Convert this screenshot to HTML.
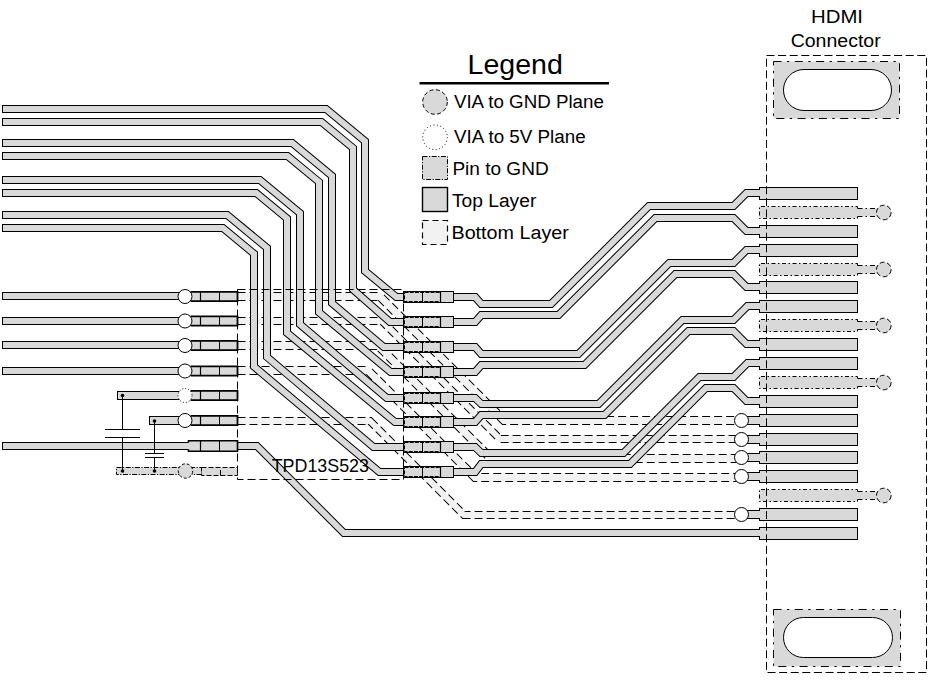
<!DOCTYPE html>
<html><head><meta charset="utf-8"><style>
html,body{margin:0;padding:0;background:#fff;width:932px;height:686px;overflow:hidden}
svg{display:block}
text{font-family:"Liberation Sans",sans-serif;fill:#000}
</style></head><body>
<svg width="932" height="686" viewBox="0 0 932 686">
<path d="M237.50,296.50 L380.00,296.50 L504.00,420.50 L741.50,420.50" stroke="#000" stroke-width="9.00" fill="none" stroke-dasharray="8 4" stroke-linejoin="miter"/>
<path d="M237.50,296.50 L380.00,296.50 L504.00,420.50 L741.50,420.50" stroke="#f2f2f2" stroke-width="7.00" fill="none" stroke-linejoin="miter"/>
<path d="M237.50,321.00 L382.00,321.00 L500.00,439.00 L741.50,439.00" stroke="#000" stroke-width="8.00" fill="none" stroke-dasharray="8 4" stroke-linejoin="miter"/>
<path d="M237.50,321.00 L382.00,321.00 L500.00,439.00 L741.50,439.00" stroke="#f2f2f2" stroke-width="6.00" fill="none" stroke-linejoin="miter"/>
<path d="M237.50,345.50 L378.00,345.50 L491.00,458.50 L741.50,458.50" stroke="#000" stroke-width="9.00" fill="none" stroke-dasharray="8 4" stroke-linejoin="miter"/>
<path d="M237.50,345.50 L378.00,345.50 L491.00,458.50 L741.50,458.50" stroke="#f2f2f2" stroke-width="7.00" fill="none" stroke-linejoin="miter"/>
<path d="M237.50,370.50 L368.00,370.50 L475.00,477.50 L741.50,477.50" stroke="#000" stroke-width="9.00" fill="none" stroke-dasharray="8 4" stroke-linejoin="miter"/>
<path d="M237.50,370.50 L368.00,370.50 L475.00,477.50 L741.50,477.50" stroke="#f2f2f2" stroke-width="7.00" fill="none" stroke-linejoin="miter"/>
<path d="M237.50,421.00 L370.00,421.00 L464.00,515.00 L741.50,515.00" stroke="#000" stroke-width="8.00" fill="none" stroke-dasharray="8 4" stroke-linejoin="miter"/>
<path d="M237.50,421.00 L370.00,421.00 L464.00,515.00 L741.50,515.00" stroke="#f2f2f2" stroke-width="6.00" fill="none" stroke-linejoin="miter"/>
<path d="M2.00,109.00 L326.10,109.00 L365.00,141.13 L365.00,271.00 L396.40,297.00 L404.00,297.00" stroke="#000" stroke-width="8.00" fill="none" stroke-linejoin="miter" stroke-miterlimit="10"/>
<path d="M3.00,109.00 L326.10,109.00 L365.00,141.13 L365.00,271.00 L396.40,297.00 L404.00,297.00" stroke="#d9d9d9" stroke-width="6.00" fill="none" stroke-linejoin="miter" stroke-miterlimit="10"/>
<path d="M2.00,122.00 L321.50,122.00 L353.00,148.02 L353.00,289.50 L390.00,322.00 L404.00,322.00" stroke="#000" stroke-width="8.00" fill="none" stroke-linejoin="miter" stroke-miterlimit="10"/>
<path d="M3.00,122.00 L321.50,122.00 L353.00,148.02 L353.00,289.50 L390.00,322.00 L404.00,322.00" stroke="#d9d9d9" stroke-width="6.00" fill="none" stroke-linejoin="miter" stroke-miterlimit="10"/>
<path d="M2.00,143.00 L292.20,143.00 L332.00,175.87 L332.00,303.20 L383.80,347.00 L404.00,347.00" stroke="#000" stroke-width="8.00" fill="none" stroke-linejoin="miter" stroke-miterlimit="10"/>
<path d="M3.00,143.00 L292.20,143.00 L332.00,175.87 L332.00,303.20 L383.80,347.00 L404.00,347.00" stroke="#d9d9d9" stroke-width="6.00" fill="none" stroke-linejoin="miter" stroke-miterlimit="10"/>
<path d="M2.00,156.00 L287.50,156.00 L319.00,182.02 L319.00,312.30 L390.60,372.00 L404.00,372.00" stroke="#000" stroke-width="8.00" fill="none" stroke-linejoin="miter" stroke-miterlimit="10"/>
<path d="M3.00,156.00 L287.50,156.00 L319.00,182.02 L319.00,312.30 L390.60,372.00 L404.00,372.00" stroke="#d9d9d9" stroke-width="6.00" fill="none" stroke-linejoin="miter" stroke-miterlimit="10"/>
<path d="M2.00,180.00 L259.90,180.00 L300.00,213.12 L300.00,324.30 L386.80,398.00 L404.00,398.00" stroke="#000" stroke-width="8.00" fill="none" stroke-linejoin="miter" stroke-miterlimit="10"/>
<path d="M3.00,180.00 L259.90,180.00 L300.00,213.12 L300.00,324.30 L386.80,398.00 L404.00,398.00" stroke="#d9d9d9" stroke-width="6.00" fill="none" stroke-linejoin="miter" stroke-miterlimit="10"/>
<path d="M2.00,193.00 L256.20,193.00 L287.00,218.44 L287.00,332.80 L395.00,422.00 L404.00,422.00" stroke="#000" stroke-width="8.00" fill="none" stroke-linejoin="miter" stroke-miterlimit="10"/>
<path d="M3.00,193.00 L256.20,193.00 L287.00,218.44 L287.00,332.80 L395.00,422.00 L404.00,422.00" stroke="#d9d9d9" stroke-width="6.00" fill="none" stroke-linejoin="miter" stroke-miterlimit="10"/>
<path d="M2.00,215.00 L227.20,215.00 L267.00,247.87 L267.00,357.00 L373.50,447.00 L404.00,447.00" stroke="#000" stroke-width="8.00" fill="none" stroke-linejoin="miter" stroke-miterlimit="10"/>
<path d="M3.00,215.00 L227.20,215.00 L267.00,247.87 L267.00,357.00 L373.50,447.00 L404.00,447.00" stroke="#d9d9d9" stroke-width="6.00" fill="none" stroke-linejoin="miter" stroke-miterlimit="10"/>
<path d="M2.00,228.00 L222.90,228.00 L254.00,253.69 L254.00,366.50 L379.40,472.00 L404.00,472.00" stroke="#000" stroke-width="8.00" fill="none" stroke-linejoin="miter" stroke-miterlimit="10"/>
<path d="M3.00,228.00 L222.90,228.00 L254.00,253.69 L254.00,366.50 L379.40,472.00 L404.00,472.00" stroke="#d9d9d9" stroke-width="6.00" fill="none" stroke-linejoin="miter" stroke-miterlimit="10"/>
<path d="M453.50,297.00 L475.20,297.00 L481.30,304.00 L551.00,304.00 L649.00,206.00 L733.50,206.00 L746.50,193.00 L760.00,193.00" stroke="#000" stroke-width="8.00" fill="none" stroke-linejoin="miter" stroke-miterlimit="10"/>
<path d="M453.50,297.00 L475.20,297.00 L481.30,304.00 L551.00,304.00 L649.00,206.00 L733.50,206.00 L746.50,193.00 L760.00,193.00" stroke="#d9d9d9" stroke-width="6.00" fill="none" stroke-linejoin="miter" stroke-miterlimit="10"/>
<path d="M453.50,322.00 L475.20,322.00 L481.30,315.00 L558.50,315.00 L655.50,218.00 L733.50,218.00 L746.50,231.00 L760.00,231.00" stroke="#000" stroke-width="8.00" fill="none" stroke-linejoin="miter" stroke-miterlimit="10"/>
<path d="M453.50,322.00 L475.20,322.00 L481.30,315.00 L558.50,315.00 L655.50,218.00 L733.50,218.00 L746.50,231.00 L760.00,231.00" stroke="#d9d9d9" stroke-width="6.00" fill="none" stroke-linejoin="miter" stroke-miterlimit="10"/>
<path d="M453.50,347.00 L475.20,347.00 L481.30,354.00 L578.30,354.00 L669.30,263.00 L733.50,263.00 L746.50,250.00 L760.00,250.00" stroke="#000" stroke-width="8.00" fill="none" stroke-linejoin="miter" stroke-miterlimit="10"/>
<path d="M453.50,347.00 L475.20,347.00 L481.30,354.00 L578.30,354.00 L669.30,263.00 L733.50,263.00 L746.50,250.00 L760.00,250.00" stroke="#d9d9d9" stroke-width="6.00" fill="none" stroke-linejoin="miter" stroke-miterlimit="10"/>
<path d="M453.50,372.00 L475.20,372.00 L481.30,365.00 L584.50,365.00 L675.50,274.00 L733.50,274.00 L746.50,287.00 L760.00,287.00" stroke="#000" stroke-width="8.00" fill="none" stroke-linejoin="miter" stroke-miterlimit="10"/>
<path d="M453.50,372.00 L475.20,372.00 L481.30,365.00 L584.50,365.00 L675.50,274.00 L733.50,274.00 L746.50,287.00 L760.00,287.00" stroke="#d9d9d9" stroke-width="6.00" fill="none" stroke-linejoin="miter" stroke-miterlimit="10"/>
<path d="M453.50,398.00 L475.20,398.00 L481.30,404.00 L598.50,404.00 L682.50,320.00 L733.50,320.00 L747.50,306.00 L760.00,306.00" stroke="#000" stroke-width="8.00" fill="none" stroke-linejoin="miter" stroke-miterlimit="10"/>
<path d="M453.50,398.00 L475.20,398.00 L481.30,404.00 L598.50,404.00 L682.50,320.00 L733.50,320.00 L747.50,306.00 L760.00,306.00" stroke="#d9d9d9" stroke-width="6.00" fill="none" stroke-linejoin="miter" stroke-miterlimit="10"/>
<path d="M453.50,422.00 L475.20,422.00 L481.30,415.00 L604.50,415.00 L688.50,331.00 L733.50,331.00 L746.50,344.00 L760.00,344.00" stroke="#000" stroke-width="8.00" fill="none" stroke-linejoin="miter" stroke-miterlimit="10"/>
<path d="M453.50,422.00 L475.20,422.00 L481.30,415.00 L604.50,415.00 L688.50,331.00 L733.50,331.00 L746.50,344.00 L760.00,344.00" stroke="#d9d9d9" stroke-width="6.00" fill="none" stroke-linejoin="miter" stroke-miterlimit="10"/>
<path d="M453.50,447.00 L475.20,447.00 L481.30,453.00 L623.50,453.00 L699.50,377.00 L733.50,377.00 L747.50,363.00 L760.00,363.00" stroke="#000" stroke-width="8.00" fill="none" stroke-linejoin="miter" stroke-miterlimit="10"/>
<path d="M453.50,447.00 L475.20,447.00 L481.30,453.00 L623.50,453.00 L699.50,377.00 L733.50,377.00 L747.50,363.00 L760.00,363.00" stroke="#d9d9d9" stroke-width="6.00" fill="none" stroke-linejoin="miter" stroke-miterlimit="10"/>
<path d="M453.50,472.00 L475.20,472.00 L481.30,464.00 L630.00,464.00 L706.00,388.00 L733.50,388.00 L746.50,401.00 L760.00,401.00" stroke="#000" stroke-width="8.00" fill="none" stroke-linejoin="miter" stroke-miterlimit="10"/>
<path d="M453.50,472.00 L475.20,472.00 L481.30,464.00 L630.00,464.00 L706.00,388.00 L733.50,388.00 L746.50,401.00 L760.00,401.00" stroke="#d9d9d9" stroke-width="6.00" fill="none" stroke-linejoin="miter" stroke-miterlimit="10"/>
<path d="M2.00,296.00 L200.00,296.00" stroke="#000" stroke-width="8.00" fill="none" stroke-linejoin="miter" stroke-miterlimit="10"/>
<path d="M3.00,296.00 L200.00,296.00" stroke="#d9d9d9" stroke-width="6.00" fill="none" stroke-linejoin="miter" stroke-miterlimit="10"/>
<path d="M2.00,321.00 L200.00,321.00" stroke="#000" stroke-width="8.00" fill="none" stroke-linejoin="miter" stroke-miterlimit="10"/>
<path d="M3.00,321.00 L200.00,321.00" stroke="#d9d9d9" stroke-width="6.00" fill="none" stroke-linejoin="miter" stroke-miterlimit="10"/>
<path d="M2.00,345.00 L200.00,345.00" stroke="#000" stroke-width="8.00" fill="none" stroke-linejoin="miter" stroke-miterlimit="10"/>
<path d="M3.00,345.00 L200.00,345.00" stroke="#d9d9d9" stroke-width="6.00" fill="none" stroke-linejoin="miter" stroke-miterlimit="10"/>
<path d="M2.00,371.00 L200.00,371.00" stroke="#000" stroke-width="8.00" fill="none" stroke-linejoin="miter" stroke-miterlimit="10"/>
<path d="M3.00,371.00 L200.00,371.00" stroke="#d9d9d9" stroke-width="6.00" fill="none" stroke-linejoin="miter" stroke-miterlimit="10"/>
<path d="M117.00,395.50 L200.00,395.50" stroke="#000" stroke-width="9.00" fill="none" stroke-linejoin="miter" stroke-miterlimit="10"/>
<path d="M118.00,395.50 L200.00,395.50" stroke="#d9d9d9" stroke-width="7.00" fill="none" stroke-linejoin="miter" stroke-miterlimit="10"/>
<path d="M149.00,420.50 L200.00,420.50" stroke="#000" stroke-width="9.00" fill="none" stroke-linejoin="miter" stroke-miterlimit="10"/>
<path d="M150.00,420.50 L200.00,420.50" stroke="#d9d9d9" stroke-width="7.00" fill="none" stroke-linejoin="miter" stroke-miterlimit="10"/>
<path d="M2.00,446.00 L256.90,446.00 L343.90,533.00 L760.00,533.00" stroke="#000" stroke-width="8.00" fill="none" stroke-linejoin="miter" stroke-miterlimit="10"/>
<path d="M3.00,446.00 L256.90,446.00 L343.90,533.00 L760.00,533.00" stroke="#d9d9d9" stroke-width="6.00" fill="none" stroke-linejoin="miter" stroke-miterlimit="10"/>
<rect x="116.50" y="467.50" width="85.00" height="7.00" fill="#d9d9d9" stroke="#000" stroke-width="1.0" stroke-dasharray="5 1.5 1.2 1.5" />
<rect x="190.50" y="291.90" width="47.00" height="9.20" fill="#d9d9d9" stroke="none" stroke-width="0" />
<path d="M190.5,291.9 H237.5 V301.1 H190.5" stroke="#000" stroke-width="1.8" fill="none"/>
<line x1="200.50" y1="291.80" x2="200.50" y2="301.20" stroke="#000" stroke-width="1.2"/>
<line x1="219.50" y1="291.80" x2="219.50" y2="301.20" stroke="#000" stroke-width="1.0"/>
<rect x="190.50" y="316.40" width="47.00" height="9.20" fill="#d9d9d9" stroke="none" stroke-width="0" />
<path d="M190.5,316.4 H237.5 V325.6 H190.5" stroke="#000" stroke-width="1.8" fill="none"/>
<line x1="200.50" y1="316.30" x2="200.50" y2="325.70" stroke="#000" stroke-width="1.2"/>
<line x1="219.50" y1="316.30" x2="219.50" y2="325.70" stroke="#000" stroke-width="1.0"/>
<rect x="190.50" y="340.90" width="47.00" height="9.20" fill="#d9d9d9" stroke="none" stroke-width="0" />
<path d="M190.5,340.9 H237.5 V350.1 H190.5" stroke="#000" stroke-width="1.8" fill="none"/>
<line x1="200.50" y1="340.80" x2="200.50" y2="350.20" stroke="#000" stroke-width="1.2"/>
<line x1="219.50" y1="340.80" x2="219.50" y2="350.20" stroke="#000" stroke-width="1.0"/>
<rect x="190.50" y="366.40" width="47.00" height="9.20" fill="#d9d9d9" stroke="none" stroke-width="0" />
<path d="M190.5,366.4 H237.5 V375.6 H190.5" stroke="#000" stroke-width="1.8" fill="none"/>
<line x1="200.50" y1="366.30" x2="200.50" y2="375.70" stroke="#000" stroke-width="1.2"/>
<line x1="219.50" y1="366.30" x2="219.50" y2="375.70" stroke="#000" stroke-width="1.0"/>
<rect x="190.50" y="390.90" width="47.00" height="9.20" fill="#d9d9d9" stroke="none" stroke-width="0" />
<path d="M190.5,390.9 H237.5 V400.1 H190.5" stroke="#000" stroke-width="1.8" fill="none"/>
<line x1="200.50" y1="390.80" x2="200.50" y2="400.20" stroke="#000" stroke-width="1.2"/>
<line x1="219.50" y1="390.80" x2="219.50" y2="400.20" stroke="#000" stroke-width="1.0"/>
<rect x="190.50" y="415.90" width="47.00" height="9.20" fill="#d9d9d9" stroke="none" stroke-width="0" />
<path d="M190.5,415.9 H237.5 V425.1 H190.5" stroke="#000" stroke-width="1.8" fill="none"/>
<line x1="200.50" y1="415.80" x2="200.50" y2="425.20" stroke="#000" stroke-width="1.2"/>
<line x1="219.50" y1="415.80" x2="219.50" y2="425.20" stroke="#000" stroke-width="1.0"/>
<rect x="188.50" y="440.70" width="49.00" height="10.60" fill="#d9d9d9" stroke="none" stroke-width="0" />
<path d="M188.5,442.5 V440.7 H237.5 V451.3 H188.5 V449.5" stroke="#000" stroke-width="1.6" fill="none"/>
<line x1="200.50" y1="440.70" x2="200.50" y2="451.30" stroke="#000" stroke-width="1.2"/>
<line x1="219.50" y1="440.70" x2="219.50" y2="451.30" stroke="#000" stroke-width="1.0"/>
<rect x="201.50" y="467.50" width="36.00" height="8.00" fill="#d9d9d9" stroke="#000" stroke-width="1.0" stroke-dasharray="5 2" />
<line x1="220.50" y1="470.00" x2="220.50" y2="475.50" stroke="#000" stroke-width="1.0"/>
<circle cx="185.00" cy="296.50" r="7.00" fill="#fff" stroke="#000" stroke-width="1.0"/>
<circle cx="185.00" cy="321.00" r="7.00" fill="#fff" stroke="#000" stroke-width="1.0"/>
<circle cx="185.00" cy="345.50" r="7.00" fill="#fff" stroke="#000" stroke-width="1.0"/>
<circle cx="185.00" cy="371.00" r="7.00" fill="#fff" stroke="#000" stroke-width="1.0"/>
<circle cx="185.00" cy="395.50" r="7.00" fill="#fff" stroke="#000" stroke-width="1.0" stroke-dasharray="1 2"/>
<circle cx="185.00" cy="420.50" r="7.00" fill="#fff" stroke="#000" stroke-width="1.0"/>
<circle cx="185.50" cy="471.00" r="7.20" fill="#d9d9d9" stroke="#000" stroke-width="1.0" stroke-dasharray="3 2"/>
<rect x="403.50" y="291.50" width="50.00" height="11.00" fill="#d9d9d9" stroke="#000" stroke-width="1.0" />
<rect x="404.50" y="292.50" width="36.00" height="9.00" fill="none" stroke="#000" stroke-width="1.0" stroke-dasharray="4 1.2" />
<line x1="422.50" y1="291.50" x2="422.50" y2="302.50" stroke="#000" stroke-width="1.0"/>
<line x1="440.50" y1="291.50" x2="440.50" y2="302.50" stroke="#000" stroke-width="1.2"/>
<rect x="403.50" y="316.50" width="50.00" height="11.00" fill="#d9d9d9" stroke="#000" stroke-width="1.0" />
<rect x="404.50" y="317.50" width="36.00" height="9.00" fill="none" stroke="#000" stroke-width="1.0" stroke-dasharray="4 1.2" />
<line x1="422.50" y1="316.50" x2="422.50" y2="327.50" stroke="#000" stroke-width="1.0"/>
<line x1="440.50" y1="316.50" x2="440.50" y2="327.50" stroke="#000" stroke-width="1.2"/>
<rect x="403.50" y="341.50" width="50.00" height="11.00" fill="#d9d9d9" stroke="#000" stroke-width="1.0" />
<rect x="404.50" y="342.50" width="36.00" height="9.00" fill="none" stroke="#000" stroke-width="1.0" stroke-dasharray="4 1.2" />
<line x1="422.50" y1="341.50" x2="422.50" y2="352.50" stroke="#000" stroke-width="1.0"/>
<line x1="440.50" y1="341.50" x2="440.50" y2="352.50" stroke="#000" stroke-width="1.2"/>
<rect x="403.50" y="366.50" width="50.00" height="11.00" fill="#d9d9d9" stroke="#000" stroke-width="1.0" />
<rect x="404.50" y="367.50" width="36.00" height="9.00" fill="none" stroke="#000" stroke-width="1.0" stroke-dasharray="4 1.2" />
<line x1="422.50" y1="366.50" x2="422.50" y2="377.50" stroke="#000" stroke-width="1.0"/>
<line x1="440.50" y1="366.50" x2="440.50" y2="377.50" stroke="#000" stroke-width="1.2"/>
<rect x="403.50" y="392.50" width="50.00" height="11.00" fill="#d9d9d9" stroke="#000" stroke-width="1.0" />
<rect x="404.50" y="393.50" width="36.00" height="9.00" fill="none" stroke="#000" stroke-width="1.0" stroke-dasharray="4 1.2" />
<line x1="422.50" y1="392.50" x2="422.50" y2="403.50" stroke="#000" stroke-width="1.0"/>
<line x1="440.50" y1="392.50" x2="440.50" y2="403.50" stroke="#000" stroke-width="1.2"/>
<rect x="403.50" y="416.50" width="50.00" height="11.00" fill="#d9d9d9" stroke="#000" stroke-width="1.0" />
<rect x="404.50" y="417.50" width="36.00" height="9.00" fill="none" stroke="#000" stroke-width="1.0" stroke-dasharray="4 1.2" />
<line x1="422.50" y1="416.50" x2="422.50" y2="427.50" stroke="#000" stroke-width="1.0"/>
<line x1="440.50" y1="416.50" x2="440.50" y2="427.50" stroke="#000" stroke-width="1.2"/>
<rect x="403.50" y="441.50" width="50.00" height="11.00" fill="#d9d9d9" stroke="#000" stroke-width="1.0" />
<rect x="404.50" y="442.50" width="36.00" height="9.00" fill="none" stroke="#000" stroke-width="1.0" stroke-dasharray="4 1.2" />
<line x1="422.50" y1="441.50" x2="422.50" y2="452.50" stroke="#000" stroke-width="1.0"/>
<line x1="440.50" y1="441.50" x2="440.50" y2="452.50" stroke="#000" stroke-width="1.2"/>
<rect x="403.50" y="466.50" width="50.00" height="11.00" fill="#d9d9d9" stroke="#000" stroke-width="1.0" />
<rect x="404.50" y="467.50" width="36.00" height="9.00" fill="none" stroke="#000" stroke-width="1.0" stroke-dasharray="4 1.2" />
<line x1="422.50" y1="466.50" x2="422.50" y2="477.50" stroke="#000" stroke-width="1.0"/>
<line x1="440.50" y1="466.50" x2="440.50" y2="477.50" stroke="#000" stroke-width="1.2"/>
<circle cx="122.50" cy="395.50" r="1.80" fill="#000" stroke="none" stroke-width="0"/>
<circle cx="154.50" cy="421.00" r="1.80" fill="#000" stroke="none" stroke-width="0"/>
<circle cx="122.50" cy="471.00" r="1.80" fill="#000" stroke="none" stroke-width="0"/>
<circle cx="154.50" cy="471.00" r="1.80" fill="#000" stroke="none" stroke-width="0"/>
<line x1="122.50" y1="395.50" x2="122.50" y2="429.50" stroke="#000" stroke-width="1.0"/>
<line x1="105.00" y1="429.50" x2="140.00" y2="429.50" stroke="#000" stroke-width="1.0"/>
<line x1="105.00" y1="437.50" x2="140.00" y2="437.50" stroke="#000" stroke-width="1.0"/>
<line x1="122.50" y1="437.50" x2="122.50" y2="471.00" stroke="#000" stroke-width="1.0"/>
<line x1="154.50" y1="421.00" x2="154.50" y2="453.50" stroke="#000" stroke-width="1.0"/>
<line x1="145.00" y1="453.50" x2="164.00" y2="453.50" stroke="#000" stroke-width="1.0"/>
<line x1="145.00" y1="457.50" x2="164.00" y2="457.50" stroke="#000" stroke-width="1.0"/>
<line x1="154.50" y1="457.50" x2="154.50" y2="471.00" stroke="#000" stroke-width="1.0"/>
<rect x="237.50" y="289.50" width="166.00" height="190.00" fill="none" stroke="#000" stroke-width="1.0" stroke-dasharray="8 4" />
<text x="271.7" y="471.6" font-size="17.5" text-anchor="start" textLength="97.3" lengthAdjust="spacingAndGlyphs" >TPD13S523</text>
<rect x="759.50" y="187.50" width="98.00" height="12.00" fill="#d9d9d9" stroke="#000" stroke-width="1.0" />
<rect x="759.50" y="206.50" width="98.00" height="12.00" fill="#d9d9d9" stroke="none" stroke-width="0" />
<rect x="857.00" y="208.50" width="23.00" height="8.00" fill="#d9d9d9" stroke="none" stroke-width="0" />
<path d="M857.5,208.5 L857.5,206.5 L759.5,206.5 L759.5,218.5 L857.5,218.5 L857.5,216.5" stroke="#000" stroke-width="1" stroke-dasharray="4 2.5 1.5 2.5" fill="none"/>
<line x1="857.50" y1="208.50" x2="877.00" y2="208.50" stroke="#000" stroke-width="1.0" stroke-dasharray="5 3 1.5 3"/>
<line x1="857.50" y1="216.50" x2="877.00" y2="216.50" stroke="#000" stroke-width="1.0" stroke-dasharray="5 3 1.5 3"/>
<circle cx="883.80" cy="212.50" r="7.30" fill="#d9d9d9" stroke="#000" stroke-width="1.0" stroke-dasharray="5 2.5"/>
<rect x="759.50" y="225.50" width="98.00" height="12.00" fill="#d9d9d9" stroke="#000" stroke-width="1.0" />
<rect x="759.50" y="244.50" width="98.00" height="12.00" fill="#d9d9d9" stroke="#000" stroke-width="1.0" />
<rect x="759.50" y="263.50" width="98.00" height="12.00" fill="#d9d9d9" stroke="none" stroke-width="0" />
<rect x="857.00" y="265.50" width="23.00" height="8.00" fill="#d9d9d9" stroke="none" stroke-width="0" />
<path d="M857.5,265.5 L857.5,263.5 L759.5,263.5 L759.5,275.5 L857.5,275.5 L857.5,273.5" stroke="#000" stroke-width="1" stroke-dasharray="4 2.5 1.5 2.5" fill="none"/>
<line x1="857.50" y1="265.50" x2="877.00" y2="265.50" stroke="#000" stroke-width="1.0" stroke-dasharray="5 3 1.5 3"/>
<line x1="857.50" y1="273.50" x2="877.00" y2="273.50" stroke="#000" stroke-width="1.0" stroke-dasharray="5 3 1.5 3"/>
<circle cx="883.80" cy="269.50" r="7.30" fill="#d9d9d9" stroke="#000" stroke-width="1.0" stroke-dasharray="5 2.5"/>
<rect x="759.50" y="281.50" width="98.00" height="12.00" fill="#d9d9d9" stroke="#000" stroke-width="1.0" />
<rect x="759.50" y="300.50" width="98.00" height="12.00" fill="#d9d9d9" stroke="#000" stroke-width="1.0" />
<rect x="759.50" y="319.50" width="98.00" height="12.00" fill="#d9d9d9" stroke="none" stroke-width="0" />
<rect x="857.00" y="321.50" width="23.00" height="8.00" fill="#d9d9d9" stroke="none" stroke-width="0" />
<path d="M857.5,321.5 L857.5,319.5 L759.5,319.5 L759.5,331.5 L857.5,331.5 L857.5,329.5" stroke="#000" stroke-width="1" stroke-dasharray="4 2.5 1.5 2.5" fill="none"/>
<line x1="857.50" y1="321.50" x2="877.00" y2="321.50" stroke="#000" stroke-width="1.0" stroke-dasharray="5 3 1.5 3"/>
<line x1="857.50" y1="329.50" x2="877.00" y2="329.50" stroke="#000" stroke-width="1.0" stroke-dasharray="5 3 1.5 3"/>
<circle cx="883.80" cy="325.50" r="7.30" fill="#d9d9d9" stroke="#000" stroke-width="1.0" stroke-dasharray="5 2.5"/>
<rect x="759.50" y="338.50" width="98.00" height="12.00" fill="#d9d9d9" stroke="#000" stroke-width="1.0" />
<rect x="759.50" y="357.50" width="98.00" height="12.00" fill="#d9d9d9" stroke="#000" stroke-width="1.0" />
<rect x="759.50" y="376.50" width="98.00" height="12.00" fill="#d9d9d9" stroke="none" stroke-width="0" />
<rect x="857.00" y="378.50" width="23.00" height="8.00" fill="#d9d9d9" stroke="none" stroke-width="0" />
<path d="M857.5,378.5 L857.5,376.5 L759.5,376.5 L759.5,388.5 L857.5,388.5 L857.5,386.5" stroke="#000" stroke-width="1" stroke-dasharray="4 2.5 1.5 2.5" fill="none"/>
<line x1="857.50" y1="378.50" x2="877.00" y2="378.50" stroke="#000" stroke-width="1.0" stroke-dasharray="5 3 1.5 3"/>
<line x1="857.50" y1="386.50" x2="877.00" y2="386.50" stroke="#000" stroke-width="1.0" stroke-dasharray="5 3 1.5 3"/>
<circle cx="883.80" cy="382.50" r="7.30" fill="#d9d9d9" stroke="#000" stroke-width="1.0" stroke-dasharray="5 2.5"/>
<rect x="759.50" y="395.50" width="98.00" height="12.00" fill="#d9d9d9" stroke="#000" stroke-width="1.0" />
<path d="M741.50,420.50 L760.00,420.50" stroke="#000" stroke-width="9.00" fill="none" stroke-linejoin="miter" stroke-miterlimit="10"/>
<path d="M741.50,420.50 L760.00,420.50" stroke="#d9d9d9" stroke-width="7.00" fill="none" stroke-linejoin="miter" stroke-miterlimit="10"/>
<rect x="759.50" y="414.50" width="98.00" height="12.00" fill="#d9d9d9" stroke="#000" stroke-width="1.0" />
<path d="M741.50,439.50 L760.00,439.50" stroke="#000" stroke-width="9.00" fill="none" stroke-linejoin="miter" stroke-miterlimit="10"/>
<path d="M741.50,439.50 L760.00,439.50" stroke="#d9d9d9" stroke-width="7.00" fill="none" stroke-linejoin="miter" stroke-miterlimit="10"/>
<rect x="759.50" y="433.50" width="98.00" height="12.00" fill="#d9d9d9" stroke="#000" stroke-width="1.0" />
<path d="M741.50,457.50 L760.00,457.50" stroke="#000" stroke-width="9.00" fill="none" stroke-linejoin="miter" stroke-miterlimit="10"/>
<path d="M741.50,457.50 L760.00,457.50" stroke="#d9d9d9" stroke-width="7.00" fill="none" stroke-linejoin="miter" stroke-miterlimit="10"/>
<rect x="759.50" y="451.50" width="98.00" height="12.00" fill="#d9d9d9" stroke="#000" stroke-width="1.0" />
<path d="M741.50,476.50 L760.00,476.50" stroke="#000" stroke-width="9.00" fill="none" stroke-linejoin="miter" stroke-miterlimit="10"/>
<path d="M741.50,476.50 L760.00,476.50" stroke="#d9d9d9" stroke-width="7.00" fill="none" stroke-linejoin="miter" stroke-miterlimit="10"/>
<rect x="759.50" y="470.50" width="98.00" height="12.00" fill="#d9d9d9" stroke="#000" stroke-width="1.0" />
<rect x="759.50" y="489.50" width="98.00" height="12.00" fill="#d9d9d9" stroke="none" stroke-width="0" />
<rect x="857.00" y="491.50" width="23.00" height="8.00" fill="#d9d9d9" stroke="none" stroke-width="0" />
<path d="M857.5,491.5 L857.5,489.5 L759.5,489.5 L759.5,501.5 L857.5,501.5 L857.5,499.5" stroke="#000" stroke-width="1" stroke-dasharray="4 2.5 1.5 2.5" fill="none"/>
<line x1="857.50" y1="491.50" x2="877.00" y2="491.50" stroke="#000" stroke-width="1.0" stroke-dasharray="5 3 1.5 3"/>
<line x1="857.50" y1="499.50" x2="877.00" y2="499.50" stroke="#000" stroke-width="1.0" stroke-dasharray="5 3 1.5 3"/>
<circle cx="883.80" cy="495.50" r="7.30" fill="#d9d9d9" stroke="#000" stroke-width="1.0" stroke-dasharray="5 2.5"/>
<path d="M741.50,514.50 L760.00,514.50" stroke="#000" stroke-width="9.00" fill="none" stroke-linejoin="miter" stroke-miterlimit="10"/>
<path d="M741.50,514.50 L760.00,514.50" stroke="#d9d9d9" stroke-width="7.00" fill="none" stroke-linejoin="miter" stroke-miterlimit="10"/>
<rect x="759.50" y="508.50" width="98.00" height="12.00" fill="#d9d9d9" stroke="#000" stroke-width="1.0" />
<rect x="759.50" y="527.50" width="98.00" height="12.00" fill="#d9d9d9" stroke="#000" stroke-width="1.0" />
<circle cx="741.50" cy="420.50" r="7.00" fill="#fff" stroke="#000" stroke-width="1.0"/>
<circle cx="741.50" cy="439.50" r="7.00" fill="#fff" stroke="#000" stroke-width="1.0"/>
<circle cx="741.50" cy="457.50" r="7.00" fill="#fff" stroke="#000" stroke-width="1.0"/>
<circle cx="741.50" cy="476.50" r="7.00" fill="#fff" stroke="#000" stroke-width="1.0"/>
<circle cx="741.50" cy="514.50" r="7.00" fill="#fff" stroke="#000" stroke-width="1.0"/>
<rect x="758.80" y="190.00" width="2.20" height="6.00" fill="#d9d9d9" stroke="none" stroke-width="0" />
<rect x="758.80" y="228.00" width="2.20" height="6.00" fill="#d9d9d9" stroke="none" stroke-width="0" />
<rect x="758.80" y="247.00" width="2.20" height="6.00" fill="#d9d9d9" stroke="none" stroke-width="0" />
<rect x="758.80" y="284.00" width="2.20" height="6.00" fill="#d9d9d9" stroke="none" stroke-width="0" />
<rect x="758.80" y="303.00" width="2.20" height="6.00" fill="#d9d9d9" stroke="none" stroke-width="0" />
<rect x="758.80" y="341.00" width="2.20" height="6.00" fill="#d9d9d9" stroke="none" stroke-width="0" />
<rect x="758.80" y="360.00" width="2.20" height="6.00" fill="#d9d9d9" stroke="none" stroke-width="0" />
<rect x="758.80" y="398.00" width="2.20" height="6.00" fill="#d9d9d9" stroke="none" stroke-width="0" />
<rect x="758.80" y="417.00" width="2.20" height="7.00" fill="#d9d9d9" stroke="none" stroke-width="0" />
<rect x="758.80" y="436.00" width="2.20" height="7.00" fill="#d9d9d9" stroke="none" stroke-width="0" />
<rect x="758.80" y="454.00" width="2.20" height="7.00" fill="#d9d9d9" stroke="none" stroke-width="0" />
<rect x="758.80" y="473.00" width="2.20" height="7.00" fill="#d9d9d9" stroke="none" stroke-width="0" />
<rect x="758.80" y="511.00" width="2.20" height="7.00" fill="#d9d9d9" stroke="none" stroke-width="0" />
<rect x="758.80" y="530.00" width="2.20" height="6.00" fill="#d9d9d9" stroke="none" stroke-width="0" />
<rect x="766.50" y="55.50" width="160.00" height="617.00" fill="none" stroke="#000" stroke-width="1.0" stroke-dasharray="8 3.6" />
<rect x="773.50" y="61.50" width="126.00" height="57.00" fill="#d9d9d9" stroke="#000" stroke-width="1.0" stroke-dasharray="8 5.5 2.3 5.5" />
<rect x="783.50" y="69.50" width="108.00" height="41.00" fill="#fff" stroke="#000" stroke-width="1.0" rx="20.5" ry="20.5"/>
<rect x="773.50" y="609.50" width="127.00" height="57.00" fill="#d9d9d9" stroke="#000" stroke-width="1.0" stroke-dasharray="8 5.5 2.3 5.5" />
<rect x="783.50" y="617.50" width="109.00" height="40.00" fill="#fff" stroke="#000" stroke-width="1.0" rx="20" ry="20"/>
<text x="811.0" y="22.6" font-size="18" text-anchor="start" textLength="52" lengthAdjust="spacingAndGlyphs" >HDMI</text>
<text x="790.7" y="47.3" font-size="18" text-anchor="start" textLength="90" lengthAdjust="spacingAndGlyphs" >Connector</text>
<text x="467.6" y="73.8" font-size="27.7" text-anchor="start" textLength="95.3" lengthAdjust="spacingAndGlyphs" >Legend</text>
<line x1="419.50" y1="83.20" x2="609.00" y2="83.20" stroke="#000" stroke-width="2.4"/>
<circle cx="435.00" cy="102.00" r="12.30" fill="#d9d9d9" stroke="#000" stroke-width="1.0" stroke-dasharray="4 2.5"/>
<text x="453.9" y="108" font-size="18" text-anchor="start" textLength="150" lengthAdjust="spacingAndGlyphs" >VIA to GND Plane</text>
<circle cx="435.00" cy="137.30" r="12.30" fill="#fff" stroke="#000" stroke-width="1.0" stroke-dasharray="1 2.5"/>
<text x="453.9" y="142.5" font-size="18" text-anchor="start" textLength="131.8" lengthAdjust="spacingAndGlyphs" >VIA to 5V Plane</text>
<rect x="422.50" y="156.50" width="25.00" height="23.00" fill="#d9d9d9" stroke="#000" stroke-width="1.0" stroke-dasharray="5 1.5 1.2 1.5" />
<text x="452.4" y="174.9" font-size="18" text-anchor="start" textLength="96.3" lengthAdjust="spacingAndGlyphs" >Pin to GND</text>
<rect x="422.50" y="187.50" width="25.00" height="24.00" fill="#d9d9d9" stroke="#000" stroke-width="1.4" />
<text x="452.0" y="206.5" font-size="18" text-anchor="start" textLength="84.3" lengthAdjust="spacingAndGlyphs" >Top Layer</text>
<rect x="422.50" y="220.50" width="25.00" height="24.00" fill="#f2f2f2" stroke="#000" stroke-width="1.2" stroke-dasharray="6 4" />
<text x="451.5" y="239.1" font-size="18" text-anchor="start" textLength="117.3" lengthAdjust="spacingAndGlyphs" >Bottom Layer</text>
</svg>
</body></html>
